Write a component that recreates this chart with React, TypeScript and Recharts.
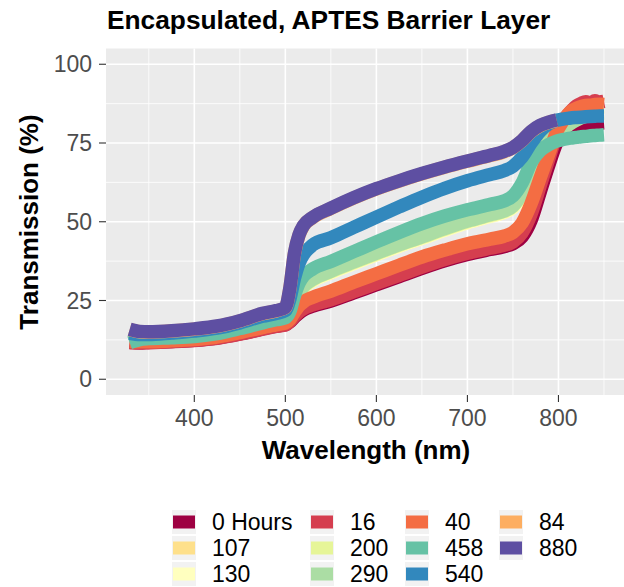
import { LineChart, Line, XAxis, YAxis, CartesianGrid } from "recharts";

const FONT = '"Liberation Sans", Arial, Helvetica, sans-serif';

// wavelength grid (nm)
const wavelength = [
  329, 340, 350, 375, 400, 425, 450, 475, 490, 500, 505, 510, 515, 520, 530, 550, 575, 600, 625, 650,
  675, 700, 725, 740, 750, 760, 770, 780, 790, 798, 805, 810, 815, 820, 825, 830, 835, 840, 845, 850,
];

// transmission (%) per ageing time
const h0 = [
  11.8, 11.6, 11.7, 12.0, 12.4, 13.1, 14.4, 16.0, 16.9, 17.3, 18.2, 19.7, 21.0, 22.0, 23.2, 24.8, 27.4, 30.0, 32.6, 35.2,
  37.6, 39.6, 41.2, 42.1, 43.0, 45.2, 50.5, 59.5, 68.5, 75.0, 78.0, 79.3, 80.0, 80.4, 80.7, 80.9, 81.0, 81.2, 81.3, 81.4,
];
const h16 = [
  11.6, 11.5, 11.6, 11.9, 12.3, 13.0, 14.3, 15.9, 16.8, 17.2, 18.3, 20.0, 21.4, 22.4, 23.6, 25.2, 27.8, 30.4, 33.0, 35.6,
  38.0, 40.0, 41.6, 42.5, 43.6, 46.5, 52.5, 61.5, 70.5, 77.5, 81.5, 83.8, 85.5, 86.8, 87.6, 88.1, 87.7, 88.4, 88.0, 88.2,
];
const h40 = [
  12.0, 11.9, 11.9, 12.2, 12.6, 13.4, 14.8, 16.4, 17.3, 17.8, 19.0, 21.3, 23.3, 24.6, 26.0, 28.0, 30.8, 33.5, 36.2, 38.8,
  41.0, 43.0, 44.5, 45.4, 46.6, 49.6, 55.8, 64.0, 72.0, 78.5, 82.0, 84.0, 85.3, 86.1, 86.6, 86.9, 87.0, 87.2, 87.3, 87.2,
];
const h84 = [
  15.8, 15.1, 15.0, 15.3, 15.9, 16.8, 18.5, 20.8, 21.7, 22.7, 28.9, 39.9, 45.7, 48.7, 51.3, 54.2, 57.5, 60.4, 62.9, 65.2,
  67.3, 69.2, 71.0, 72.2, 73.5, 75.7, 78.6, 80.5, 81.6, 82.2, null, null, null, null, null, null, null, null, null, null,
];
const h107 = [
  12.0, 12.2, 12.3, 12.6, 13.0, 13.8, 15.3, 17.1, 18.1, 18.6, 20.4, 24.1, 27.2, 29.1, 31.3, 33.9, 36.8, 39.6, 42.3, 44.8,
  47.4, 49.8, 51.8, 53.0, 54.6, 58.2, 64.8, 71.0, 75.6, 78.5, 80.8, 82.2, 83.4, 84.2, 84.8, 85.2, 85.4, 85.5, 85.6, 85.6,
];
const h130 = [
  11.9, 12.1, 12.2, 12.5, 12.9, 13.7, 15.2, 17.0, 18.0, 18.5, 20.3, 24.0, 27.1, 29.0, 31.2, 33.8, 36.7, 39.5, 42.2, 44.7,
  47.3, 49.7, 51.7, 52.9, 54.5, 58.0, 64.5, 70.8, 75.4, 78.3, 80.6, 82.0, 83.2, 84.0, 84.6, 85.0, 85.2, 85.3, 85.3, 85.3,
];
const h200 = [
  12.2, 12.4, 12.5, 12.8, 13.2, 14.0, 15.5, 17.3, 18.3, 18.8, 20.6, 24.3, 27.4, 29.3, 31.5, 34.1, 37.0, 39.8, 42.5, 45.0,
  47.6, 50.0, 52.0, 53.2, 54.8, 58.7, 65.6, 71.6, 75.8, 78.8, 81.0, 82.5, 83.8, 84.7, 85.4, 85.8, 86.1, 86.3, 86.4, 86.5,
];
const h290 = [
  12.4, 12.6, 12.7, 13.0, 13.4, 14.2, 15.7, 17.5, 18.5, 19.0, 20.8, 24.5, 27.6, 29.5, 31.7, 34.3, 37.2, 40.0, 42.7, 45.2,
  47.8, 50.2, 52.2, 53.4, 55.0, 59.2, 66.5, 72.3, 75.8, 78.0, 79.5, 80.5, 81.5, 82.3, 83.0, 83.5, 83.9, 84.2, 84.4, 84.5,
];
const h458 = [
  11.6, 12.6, 12.9, 13.2, 13.6, 14.5, 16.1, 17.9, 18.9, 19.5, 21.5, 26.5, 30.5, 32.8, 35.0, 37.4, 40.5, 43.6, 46.6, 49.4,
  51.8, 53.8, 55.5, 56.6, 58.2, 62.3, 68.8, 72.6, 74.6, 75.6, 76.1, 76.4, 76.6, 76.8, 77.0, 77.1, 77.3, 77.4, 77.5, 77.6,
];
const h540 = [
  14.6, 14.2, 14.2, 14.7, 15.3, 16.2, 17.9, 20.0, 20.9, 21.8, 25.5, 32.0, 36.8, 39.6, 42.6, 44.9, 48.2, 51.5, 54.7, 57.8,
  60.6, 63.0, 65.0, 66.2, 67.6, 70.5, 75.0, 78.8, 81.2, 82.2, 82.6, 82.8, 83.0, 83.1, 83.2, 83.3, 83.4, 83.5, 83.6, 83.6,
];
const h880 = [
  15.9, 15.2, 15.1, 15.4, 16.0, 16.9, 18.6, 20.9, 21.8, 22.8, 29.0, 40.0, 45.8, 48.8, 51.4, 54.3, 57.6, 60.5, 63.0, 65.3,
  67.4, 69.3, 71.1, 72.3, 73.6, 75.8, 78.7, 80.6, 81.7, 82.3, null, null, null, null, null, null, null, null, null, null,
];

// factor order (alphabetical, as in the legend) - also the drawing order
const series = [
  { key: "h0", label: "0 Hours", color: "#9E0142", values: h0 },
  { key: "h107", label: "107", color: "#FEE08B", values: h107 },
  { key: "h130", label: "130", color: "#FFFFBF", values: h130 },
  { key: "h16", label: "16", color: "#D53E4F", values: h16 },
  { key: "h200", label: "200", color: "#E6F598", values: h200 },
  { key: "h290", label: "290", color: "#ABDDA4", values: h290 },
  { key: "h40", label: "40", color: "#F46D43", values: h40 },
  { key: "h458", label: "458", color: "#66C2A5", values: h458 },
  { key: "h540", label: "540", color: "#3288BD", values: h540 },
  { key: "h84", label: "84", color: "#FDAE61", values: h84 },
  { key: "h880", label: "880", color: "#5E4FA2", values: h880 },
];

const xMajor = [400, 500, 600, 700, 800];
const xMinor = [350, 450, 550, 650, 750, 850];
const yMajor = [0, 25, 50, 75, 100];
const yMinor = [12.5, 37.5, 62.5, 87.5];

const rows = wavelength.map((w, i) => {
  const row: Record<string, number | null> = { w };
  series.forEach((s) => {
    row[s.key] = s.values[i];
  });
  return row;
});

const legendX = [172, 310, 405, 499];
const legendY = [522, 548, 574];

export default function App() {
  return (
    <div style={{ position: "absolute", left: 0, top: 0, width: 624, height: 587, overflow: "hidden", background: "#fff", fontFamily: FONT }}>
      <LineChart width={624} height={587} data={rows} margin={{ top: 48.5, right: 0, bottom: 152, left: 0 }}>
        <CartesianGrid fill="#EBEBEB" stroke="#FFFFFF" strokeWidth={0.8} verticalValues={xMinor} horizontalValues={yMinor} />
        <CartesianGrid stroke="#FFFFFF" strokeWidth={1.6} verticalValues={xMajor} horizontalValues={yMajor} />
        <XAxis
          dataKey="w"
          type="number"
          domain={[303, 872]}
          allowDataOverflow
          ticks={xMajor}
          height={40}
          axisLine={false}
          tickSize={7}
          tickMargin={8}
          tickLine={{ stroke: "#333333", strokeWidth: 1.1 }}
          tick={{ fill: "#4D4D4D", fontSize: 23, fontFamily: FONT }}
        />
        <YAxis
          type="number"
          domain={[-5, 105]}
          allowDataOverflow
          ticks={yMajor}
          width={106}
          axisLine={false}
          tickSize={7}
          tickMargin={7}
          tickLine={{ stroke: "#333333", strokeWidth: 1.1 }}
          tick={{ fill: "#4D4D4D", fontSize: 23, fontFamily: FONT }}
        />
        {series.map((s) => (
          <Line
            key={s.key}
            dataKey={s.key}
            type="monotone"
            stroke={s.color}
            strokeWidth={13.5}
            strokeLinecap="butt"
            strokeLinejoin="round"
            dot={false}
            activeDot={false}
            isAnimationActive={false}
          />
        ))}
      </LineChart>
      <svg width={624} height={587} style={{ position: "absolute", left: 0, top: 0, pointerEvents: "none" }}>
        <text x={107} y={29} fontSize={26.3} fontWeight="bold" fill="#000" fontFamily={FONT}>
          Encapsulated, APTES Barrier Layer
        </text>
        <text x={366} y={459} fontSize={26} fontWeight="bold" fill="#000" textAnchor="middle" fontFamily={FONT}>
          Wavelength (nm)
        </text>
        <text transform="translate(38,222) rotate(-90)" fontSize={26} fontWeight="bold" fill="#000" textAnchor="middle" fontFamily={FONT}>
          Transmission (%)
        </text>
        {series.map((s, i) => {
          const cx = legendX[Math.floor(i / 3)];
          const cy = legendY[i % 3];
          return (
            <g key={s.key}>
              <rect x={cx} y={cy - 12} width={24} height={24} fill="#F2F2F2" />
              <rect x={cx + 1} y={cy - 6.5} width={22} height={13} fill={s.color} />
              <text x={cx + 40} y={cy + 8} fontSize={23} fill="#000" fontFamily={FONT}>
                {s.label}
              </text>
            </g>
          );
        })}
      </svg>
    </div>
  );
}
